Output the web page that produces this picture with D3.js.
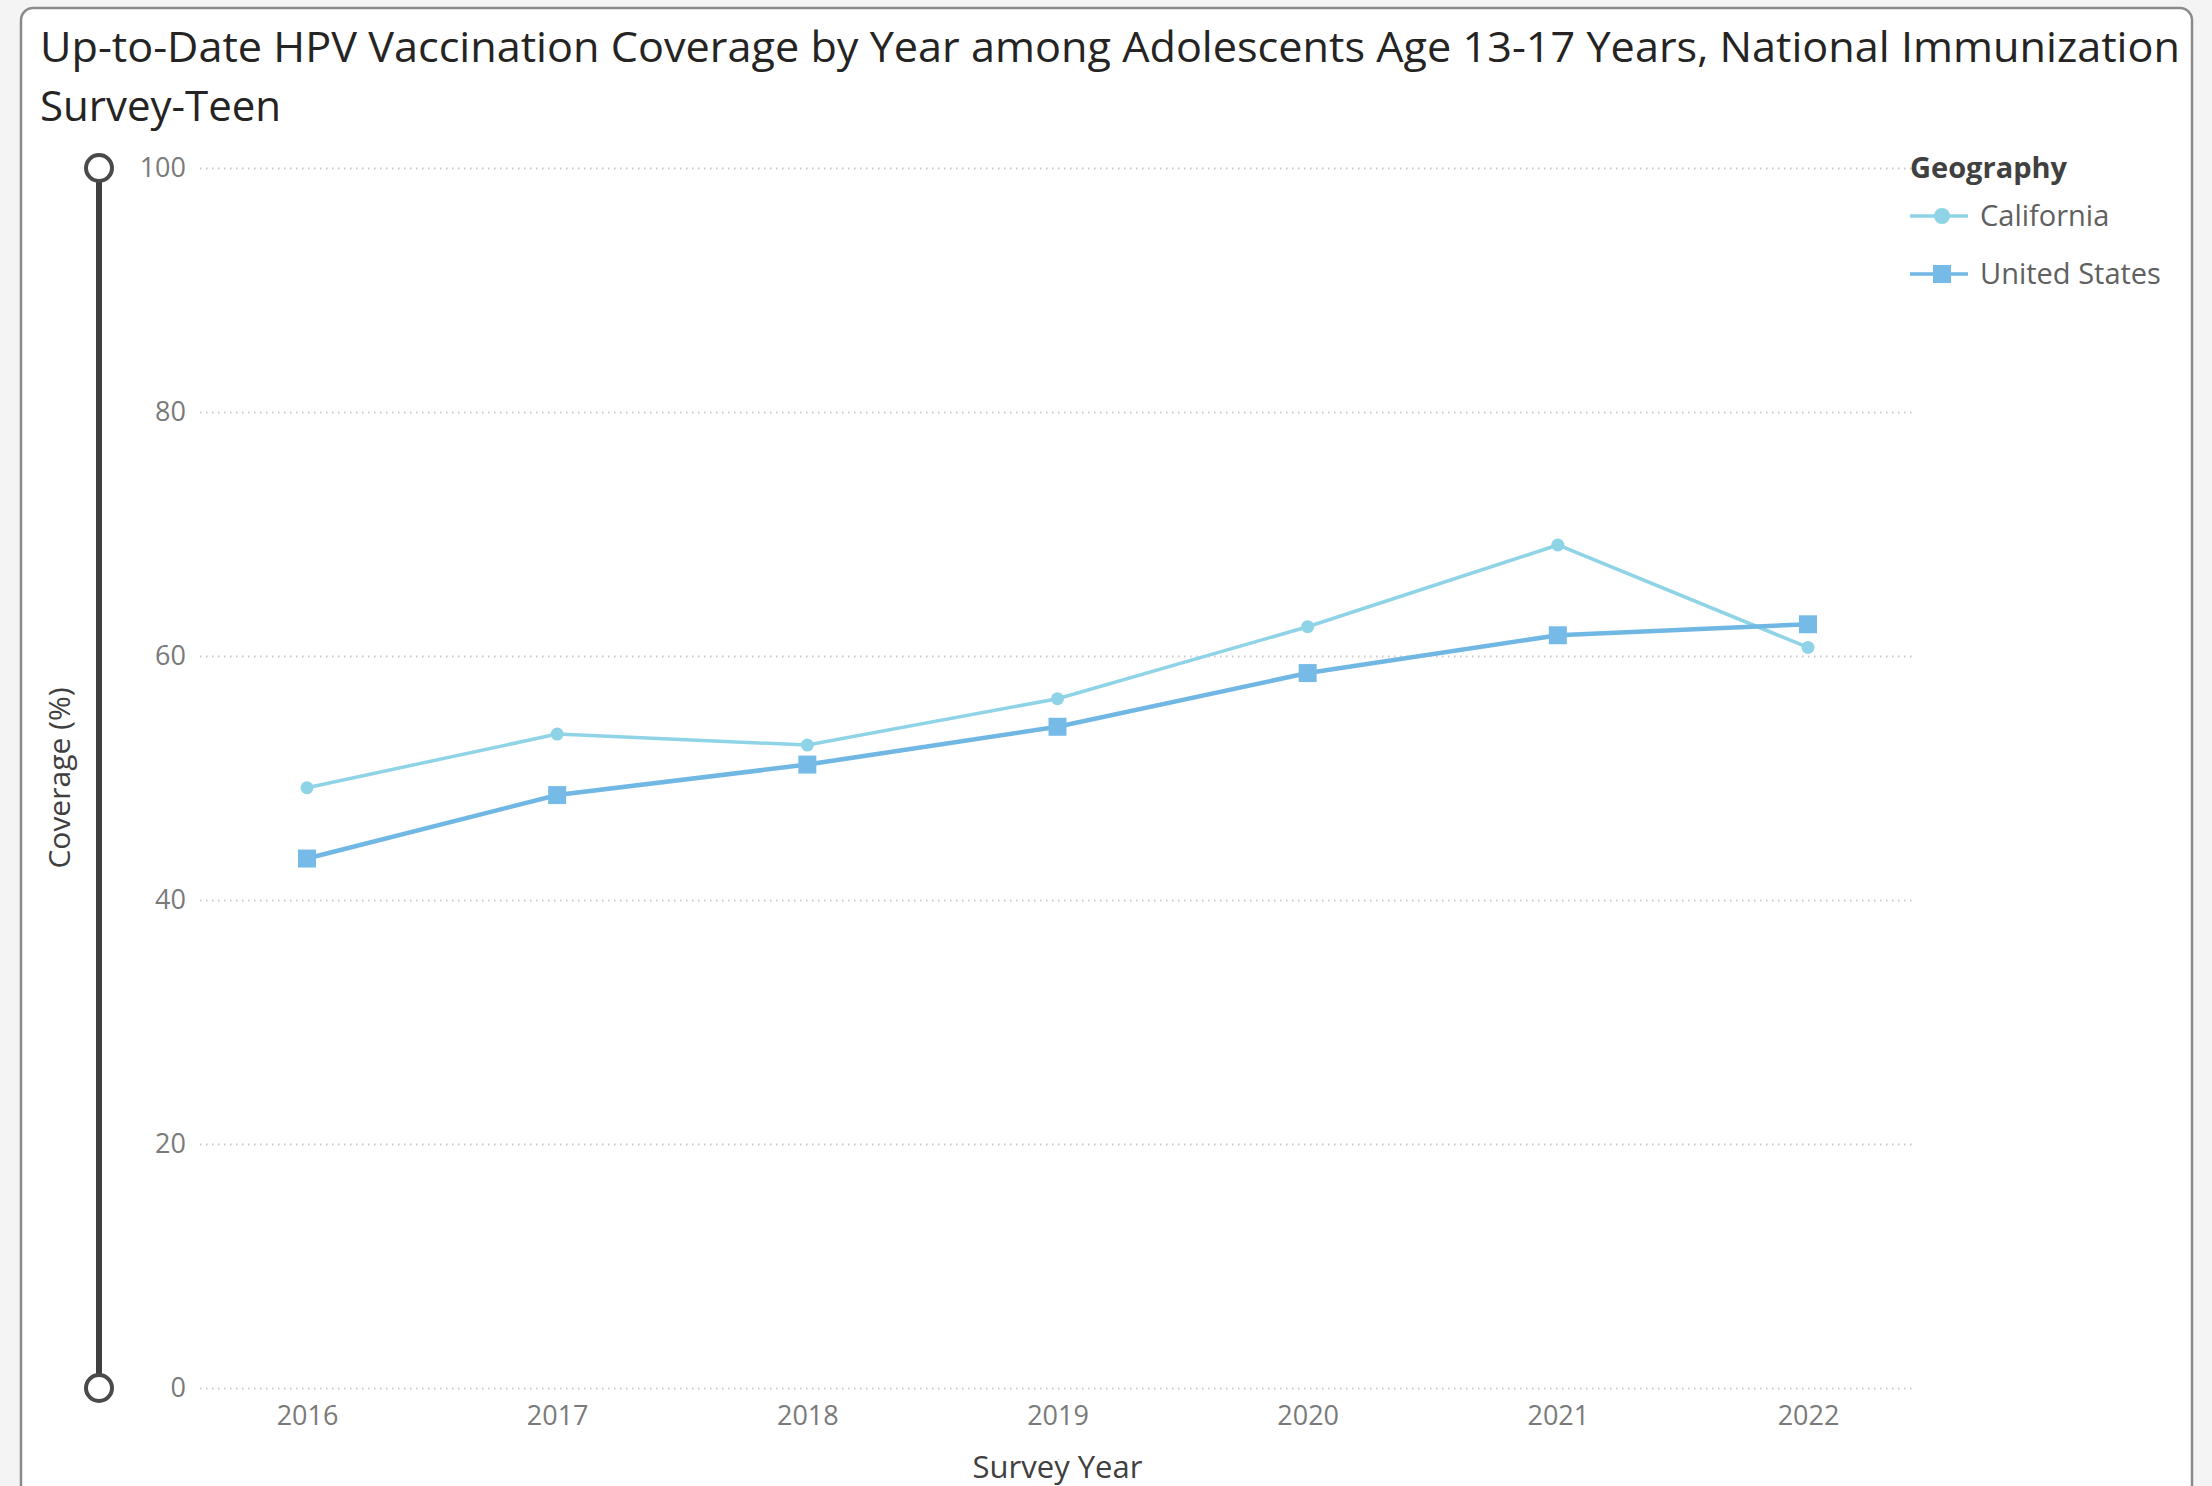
<!DOCTYPE html>
<html>
<head>
<meta charset="utf-8">
<script src="https://cdn.jsdelivr.net/npm/d3@7"></script>
<style>
  html, body { margin: 0; padding: 0; background: #f4f4f4; }
  svg { display: block; }
  text { font-family: "Segoe UI", "Open Sans", "Noto Sans", sans-serif; }
</style>
</head>
<body>
<svg id="chart" width="2212" height="1486"></svg>
<script>
// Survey years shown on the x axis
const years = ["2016", "2017", "2018", "2019", "2020", "2021", "2022"];
// Up-to-date HPV coverage (%) by geography
const california = [49.2, 53.6, 52.7, 56.5, 62.4, 69.1, 60.7];
const unitedStates = [43.4, 48.6, 51.1, 54.2, 58.6, 61.7, 62.6];
const seriesNames = ["California", "United States"];
const yTicks = [0, 20, 40, 60, 80, 100];

const titleText = "Up-to-Date HPV Vaccination Coverage by Year among Adolescents Age 13-17 Years, National Immunization";
const titleText2 = "Survey-Teen";

const colors = { "California": "#8fd3e7", "United States": "#71b7e4" };
const markerColors = { "California": "#8fd3e7", "United States": "#76bbe8" };

const svg = d3.select("#chart");

// card background
svg.append("rect")
  .attr("x", 21).attr("y", 8)
  .attr("width", 2171).attr("height", 1500)
  .attr("rx", 12)
  .attr("fill", "#ffffff")
  .attr("stroke", "#8a8a8a")
  .attr("stroke-width", 2.5);

// title
const t1 = svg.append("text")
  .attr("x", 40).attr("y", 62)
  .attr("font-size", 42)
  .attr("fill", "#252423")
  .text(titleText);
const w1 = t1.node().getComputedTextLength();
if (Math.abs(w1 - 2140) > 4) {
  t1.attr("textLength", 2140).attr("lengthAdjust", "spacingAndGlyphs");
}
svg.append("text")
  .attr("x", 40).attr("y", 121)
  .attr("font-size", 42)
  .attr("fill", "#252423")
  .text(titleText2);

// scales
const x = d3.scalePoint().domain(years).range([307, 1808]);
const y = d3.scaleLinear().domain([0, 100]).range([1388, 168]);

const gridLeft = 200, gridRight = 1912;

// y axis with dotted gridlines
const yAxis = svg.append("g")
  .attr("transform", `translate(${gridLeft},0)`)
  .call(d3.axisLeft(y).tickValues(yTicks).tickSizeInner(-(gridRight - gridLeft)).tickSizeOuter(0).tickPadding(14));
yAxis.select(".domain").remove();
yAxis.selectAll(".tick line")
  .attr("stroke", "#c9c9c9")
  .attr("stroke-width", 2)
  .attr("stroke-dasharray", "1.5,4.5");
yAxis.selectAll(".tick text")
  .attr("font-size", 27)
  .attr("fill", "#7a7a7a")
  .attr("font-family", null);

// x axis
const xAxis = svg.append("g")
  .attr("transform", `translate(0,${y(0)})`)
  .call(d3.axisBottom(x).tickSize(0).tickPadding(18));
xAxis.select(".domain").remove();
xAxis.selectAll(".tick text")
  .attr("font-size", 27)
  .attr("fill", "#7a7a7a")
  .attr("font-family", null);

// zoom slider on the y axis
const sliderX = 99;
svg.append("line")
  .attr("x1", sliderX).attr("x2", sliderX)
  .attr("y1", y(100)).attr("y2", y(0))
  .attr("stroke", "#3f3f3f")
  .attr("stroke-width", 6);
svg.selectAll("circle.handle")
  .data([100, 0])
  .join("circle")
  .attr("class", "handle")
  .attr("cx", sliderX)
  .attr("cy", d => y(d))
  .attr("r", 13)
  .attr("fill", "#ffffff")
  .attr("stroke", "#4a4a4a")
  .attr("stroke-width", 4);

// axis titles
svg.append("text")
  .attr("x", (x.range()[0] + x.range()[1]) / 2)
  .attr("y", 1478)
  .attr("text-anchor", "middle")
  .attr("font-size", 31)
  .attr("fill", "#404040")
  .text("Survey Year");

svg.append("text")
  .attr("transform", `translate(70,${(y(0) + y(100)) / 2}) rotate(-90)`)
  .attr("text-anchor", "middle")
  .attr("font-size", 30)
  .attr("fill", "#404040")
  .text("Coverage (%)");

// lines and markers
const line = d3.line().x((d, i) => x(years[i])).y(d => y(d));

svg.append("path")
  .datum(california)
  .attr("d", line)
  .attr("fill", "none")
  .attr("stroke", colors["California"])
  .attr("stroke-width", 3.5);
svg.selectAll("circle.ca")
  .data(california)
  .join("circle")
  .attr("class", "ca")
  .attr("cx", (d, i) => x(years[i]))
  .attr("cy", d => y(d))
  .attr("r", 6.5)
  .attr("fill", markerColors["California"]);

svg.append("path")
  .datum(unitedStates)
  .attr("d", line)
  .attr("fill", "none")
  .attr("stroke", colors["United States"])
  .attr("stroke-width", 4.5);
const sq = 18;
svg.selectAll("rect.us")
  .data(unitedStates)
  .join("rect")
  .attr("class", "us")
  .attr("x", (d, i) => x(years[i]) - sq / 2)
  .attr("y", d => y(d) - sq / 2)
  .attr("width", sq).attr("height", sq)
  .attr("fill", markerColors["United States"]);

// legend
const legend = svg.append("g").attr("transform", "translate(1910,0)");
legend.append("text")
  .attr("x", 0).attr("y", 168).attr("dy", "0.35em")
  .attr("font-size", 29)
  .attr("font-weight", "bold")
  .attr("fill", "#404040")
  .text("Geography");

const items = legend.selectAll("g.item")
  .data(seriesNames)
  .join("g")
  .attr("class", "item")
  .attr("transform", (d, i) => `translate(0,${216 + i * 58})`);
items.append("line")
  .attr("x1", 0).attr("x2", 58)
  .attr("stroke", d => colors[d])
  .attr("stroke-width", 3.5);
items.filter(d => d === "California").append("circle")
  .attr("cx", 32).attr("r", 8)
  .attr("fill", markerColors["California"]);
items.filter(d => d === "United States").append("rect")
  .attr("x", 23).attr("y", -9).attr("width", 18).attr("height", 18)
  .attr("fill", markerColors["United States"]);
items.append("text")
  .attr("x", 70).attr("dy", "0.35em")
  .attr("font-size", 29)
  .attr("fill", "#606060")
  .text(d => d);
</script>
</body>
</html>
